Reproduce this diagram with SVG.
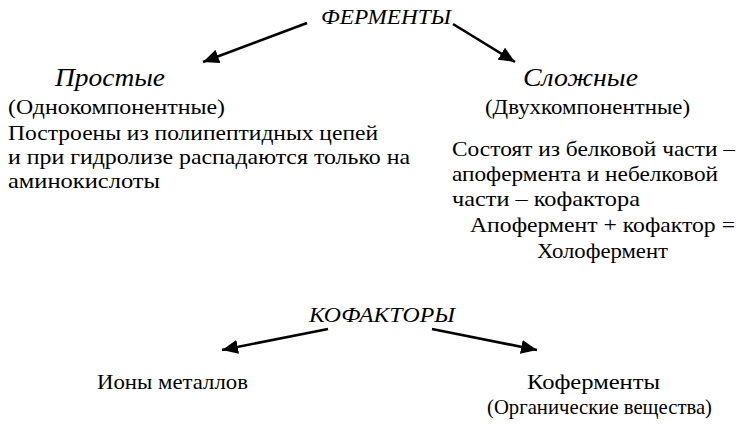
<svg xmlns="http://www.w3.org/2000/svg" width="747" height="427" viewBox="0 0 747 427">
<style>
text{font-family:"Liberation Serif","Times New Roman",serif;fill:#000;}
.t{font-size:21px;}
.h{font-size:21px;font-style:italic;}
.s{font-size:25px;font-style:italic;}
.c{stroke:#000;stroke-width:2.6;fill:none;marker-end:url(#ah);}
</style>
<defs>
<marker id="ah" markerUnits="userSpaceOnUse" markerWidth="18" markerHeight="14" refX="16" refY="7" orient="auto">
<path d="M0,0 L16,7 L0,14 Z" fill="#000"/>
</marker>
</defs>
<rect width="747" height="427" fill="#fff"/>
<g id="connectors">
<line class="c" x1="307" y1="23" x2="203" y2="62"/>
<line class="c" x1="453" y1="24" x2="515" y2="62"/>
<line class="c" x1="328" y1="329" x2="222" y2="350"/>
<line class="c" x1="432" y1="329" x2="537" y2="350"/>
</g>
<g id="fermenty"><text class="h" x="321" y="24" textLength="130" lengthAdjust="spacingAndGlyphs">ФЕРМЕНТЫ</text></g>
<g id="prostye">
<text class="s" x="55" y="86" textLength="110" lengthAdjust="spacingAndGlyphs">Простые</text>
<text class="t" x="8" y="114" textLength="217" lengthAdjust="spacingAndGlyphs">(Однокомпонентные)</text>
<text class="t" x="8" y="140" textLength="370" lengthAdjust="spacingAndGlyphs">Построены из полипептидных цепей</text>
<text class="t" x="8" y="164" textLength="402" lengthAdjust="spacingAndGlyphs">и при гидролизе распадаются только на</text>
<text class="t" x="8" y="188" textLength="152" lengthAdjust="spacingAndGlyphs">аминокислоты</text>
</g>
<g id="slozhnye">
<text class="s" x="523" y="86" textLength="115" lengthAdjust="spacingAndGlyphs">Сложные</text>
<text class="t" x="485" y="114" textLength="205" lengthAdjust="spacingAndGlyphs">(Двухкомпонентные)</text>
<text class="t" x="452" y="156" textLength="283" lengthAdjust="spacingAndGlyphs">Состоят из белковой части –</text>
<text class="t" x="452" y="181" textLength="266" lengthAdjust="spacingAndGlyphs">апофермента и небелковой</text>
<text class="t" x="452" y="206" textLength="188" lengthAdjust="spacingAndGlyphs">части – кофактора</text>
<text class="t" x="470" y="232" textLength="265" lengthAdjust="spacingAndGlyphs">Апофермент + кофактор =</text>
<text class="t" x="537" y="258" textLength="131" lengthAdjust="spacingAndGlyphs">Холофермент</text>
</g>
<g id="kofaktory"><text class="h" x="309" y="322" textLength="146" lengthAdjust="spacingAndGlyphs">КОФАКТОРЫ</text></g>
<g id="iony"><text class="t" x="97" y="389" textLength="151" lengthAdjust="spacingAndGlyphs">Ионы металлов</text></g>
<g id="kofermenty">
<text class="t" x="527" y="389" textLength="133" lengthAdjust="spacingAndGlyphs">Коферменты</text>
<text class="t" x="487" y="414" textLength="225" lengthAdjust="spacingAndGlyphs">(Органические вещества)</text>
</g>
</svg>
